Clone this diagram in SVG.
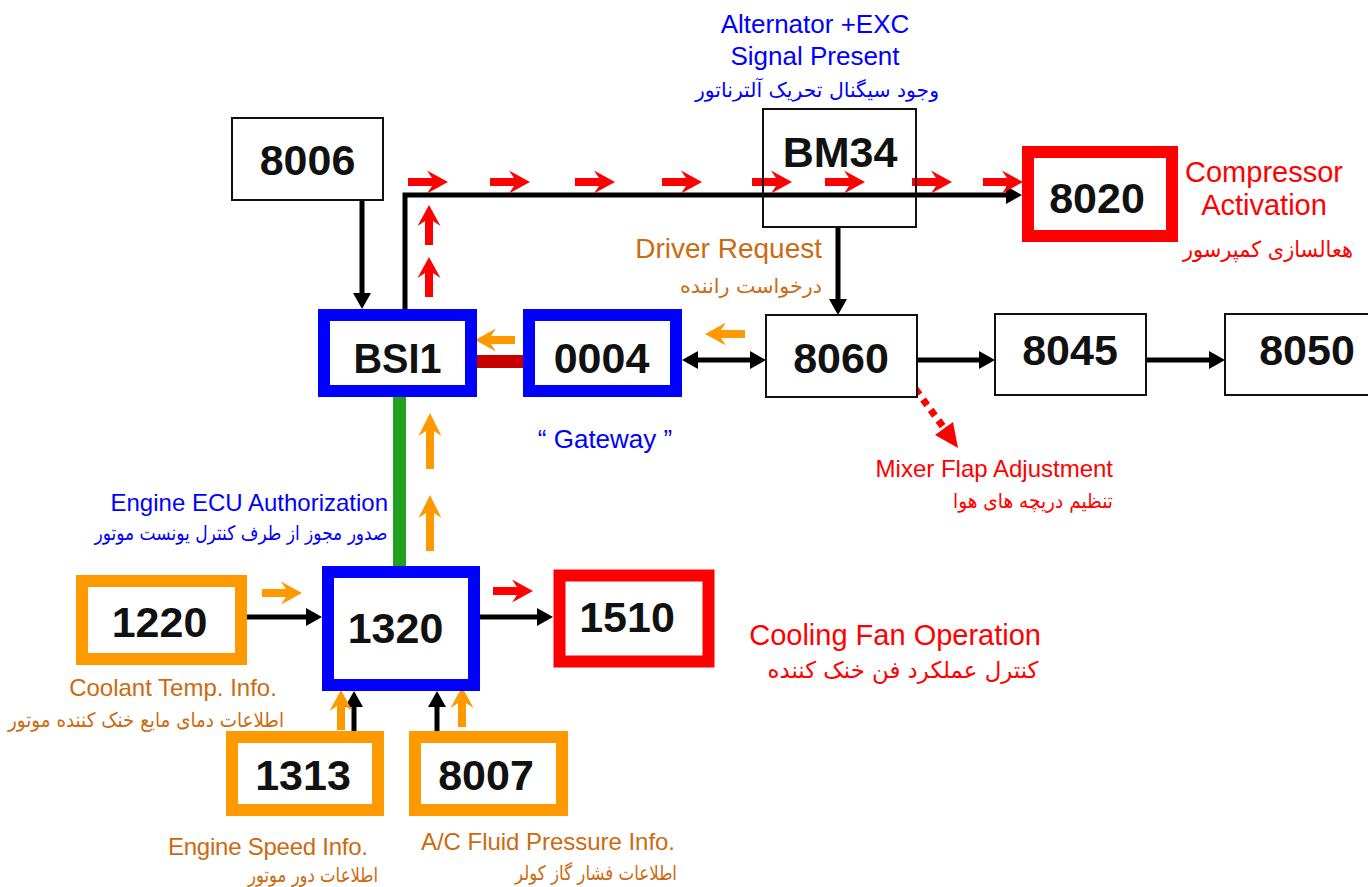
<svg xmlns="http://www.w3.org/2000/svg" width="1368" height="887" viewBox="0 0 1368 887">
<defs>
<style>
.thin{fill:#fff;stroke:#111;stroke-width:2}
.blue{fill:#fff;stroke:#0000ff;stroke-width:12}
.red{fill:#fff;stroke:#ff0000;stroke-width:12}
.org{fill:#fff;stroke:#ff9900;stroke-width:12}
.num{font-family:"Liberation Sans",Arial,sans-serif;font-weight:bold;font-size:43px;fill:#111;text-anchor:middle}
.en{font-family:"Liberation Sans",Arial,sans-serif}
.fa{font-family:"DejaVu Sans","Noto Sans",sans-serif;text-anchor:middle}
.cb{fill:#0000ff}
.cr{fill:#ff0000}
.co{fill:#cc6a10}
.conn{fill:none;stroke:#000;stroke-width:5}
</style>
<marker id="ah" markerUnits="userSpaceOnUse" markerWidth="16" markerHeight="18" refX="6" refY="9" orient="auto-start-reverse">
<path d="M0,0 L16,9 L0,18 Z" fill="#000"/>
</marker>
<path id="fa" d="M0,-4 H24 L19,-11.5 L40,0 L19,11.5 L24,4 H0 Z"/>
<path id="fal" d="M0,-4 H38 L33,-11.5 L56,0 L33,11.5 L38,4 H0 Z"/>
</defs>
<rect width="1368" height="887" fill="#fff"/>

<g id="connectors">
<rect x="393" y="397" width="13" height="169" fill="#22a022"/>
<rect x="477" y="355" width="46" height="13" fill="#c80000"/>
<line class="conn" x1="362" y1="200" x2="362" y2="299" marker-end="url(#ah)"/>
<polyline class="conn" points="405,309 405,195 1012,195" marker-end="url(#ah)"/>
<line class="conn" x1="838" y1="227" x2="838" y2="305" marker-end="url(#ah)"/>
<line class="conn" x1="692" y1="360" x2="756" y2="360" marker-start="url(#ah)" marker-end="url(#ah)"/>
<line class="conn" x1="917" y1="360" x2="985" y2="360" marker-end="url(#ah)"/>
<line class="conn" x1="1146" y1="360" x2="1215" y2="360" marker-end="url(#ah)"/>
<line class="conn" x1="247" y1="617" x2="312" y2="617" marker-end="url(#ah)"/>
<line class="conn" x1="480" y1="617" x2="543" y2="617" marker-end="url(#ah)"/>
<line class="conn" x1="354" y1="731" x2="354" y2="701" marker-end="url(#ah)"/>
<line class="conn" x1="437" y1="731" x2="437" y2="701" marker-end="url(#ah)"/>
<line x1="900" y1="368" x2="944" y2="428" stroke="#ff0000" stroke-width="7" stroke-dasharray="7,6"/>
<path d="M958,448 L935,435 L953,422 Z" fill="#ff0000"/>
</g>

<g id="flow-arrows">
<g fill="#ff0000">
<use href="#fa" transform="translate(408,182)"/>
<use href="#fa" transform="translate(490,182)"/>
<use href="#fa" transform="translate(575,182)"/>
<use href="#fa" transform="translate(662,182)"/>
<use href="#fa" transform="translate(752,182)"/>
<use href="#fa" transform="translate(825,182)"/>
<use href="#fa" transform="translate(912,182)"/>
<use href="#fa" transform="translate(983,182)"/>
<use href="#fa" transform="translate(429,297) rotate(-90)"/>
<use href="#fa" transform="translate(429,245) rotate(-90)"/>
<use href="#fa" transform="translate(493,591)"/>
</g>
<g fill="#ff9900">
<use href="#fa" transform="translate(515,340) rotate(180)"/>
<use href="#fa" transform="translate(745,334) rotate(180)"/>
<use href="#fal" transform="translate(430,469) rotate(-90)"/>
<use href="#fal" transform="translate(430,551) rotate(-90)"/>
<use href="#fa" transform="translate(262,593)"/>
<use href="#fa" transform="translate(341,730) rotate(-90)"/>
<use href="#fa" transform="translate(462,727) rotate(-90)"/>
</g>
</g>

<g id="n8006"><rect class="thin" x="232" y="118" width="151" height="82"/><text class="num" x="307.5" y="175">8006</text></g>
<g id="nBM34"><rect class="thin" x="763" y="109" width="153" height="118" fill-opacity="0"/><text class="num" x="840" y="167">BM34</text></g>
<g id="n8060"><rect class="thin" x="766" y="315" width="151" height="82"/><text class="num" x="841" y="373">8060</text></g>
<g id="n8045"><rect class="thin" x="995" y="314" width="151" height="81"/><text class="num" x="1070" y="365">8045</text></g>
<g id="n8050"><rect class="thin" x="1225" y="314" width="150" height="81"/><text class="num" x="1307" y="365">8050</text></g>
<g id="nBSI1"><rect class="blue" x="324" y="315" width="147" height="76"/><text class="num" x="397.5" y="373" textLength="88" lengthAdjust="spacingAndGlyphs">BSI1</text></g>
<g id="n0004"><rect class="blue" x="529" y="315" width="147" height="76"/><text class="num" x="601.5" y="373">0004</text></g>
<g id="n8020"><rect class="red" x="1028" y="152" width="144" height="84"/><text class="num" x="1097" y="213">8020</text></g>
<g id="n1320"><rect class="blue" x="328" y="572" width="146" height="113"/><text class="num" x="395.5" y="643">1320</text></g>
<g id="n1220"><rect class="org" x="82" y="581" width="159" height="78"/><text class="num" x="159.5" y="637">1220</text></g>
<g id="n1510"><rect class="red" x="559.5" y="575.5" width="149" height="86" stroke-width="13"/><text class="num" x="627" y="632">1510</text></g>
<g id="n1313"><rect class="org" x="232" y="737" width="146" height="73"/><text class="num" x="303" y="790">1313</text></g>
<g id="n8007"><rect class="org" x="415" y="737" width="147" height="73"/><text class="num" x="486" y="790">8007</text></g>

<g id="labels">
<text class="en cb" x="815" y="33" font-size="26" text-anchor="middle">Alternator +EXC</text>
<text class="en cb" x="815" y="65" font-size="26" text-anchor="middle">Signal Present</text>
<text class="fa cb" x="817" y="97" font-size="20" direction="rtl" textLength="244" lengthAdjust="spacingAndGlyphs">وجود سیگنال تحریک آلترناتور</text>
<text class="en co" x="822" y="258" font-size="28" text-anchor="end">Driver Request</text>
<text class="fa co" x="751" y="293" font-size="20" direction="rtl" textLength="142" lengthAdjust="spacingAndGlyphs">درخواست راننده</text>
<text class="en cb" x="605" y="448" font-size="26" text-anchor="middle">“ Gateway ”</text>
<text class="en cr" x="1264" y="182" font-size="29" text-anchor="middle">Compressor</text>
<text class="en cr" x="1264" y="215" font-size="29" text-anchor="middle">Activation</text>
<text class="fa cr" x="1268" y="257" font-size="22" direction="rtl" textLength="170" lengthAdjust="spacingAndGlyphs">هعالسازی کمپرسور</text>
<text class="en cr" x="1113" y="477" font-size="24" text-anchor="end">Mixer Flap Adjustment</text>
<text class="fa cr" x="1033" y="508" font-size="20" direction="rtl" textLength="160" lengthAdjust="spacingAndGlyphs">تنظیم دریچه های هوا</text>
<text class="en cr" x="1041" y="645" font-size="29" text-anchor="end">Cooling Fan Operation</text>
<text class="fa cr" x="903" y="678" font-size="23" direction="rtl" textLength="271" lengthAdjust="spacingAndGlyphs">کنترل عملکرد فن خنک کننده</text>
<text class="en cb" x="388" y="511" font-size="24" text-anchor="end">Engine ECU Authorization</text>
<text class="fa cb" x="241" y="540" font-size="20" direction="rtl" textLength="293" lengthAdjust="spacingAndGlyphs">صدور مجوز از طرف کنترل یونست موتور</text>
<text class="en co" x="173" y="696" font-size="24" text-anchor="middle">Coolant Temp. Info.</text>
<text class="fa co" x="146" y="727" font-size="20" direction="rtl" textLength="276" lengthAdjust="spacingAndGlyphs">اطلاعات دمای مایع خنک کننده موتور</text>
<text class="en co" x="268" y="855" font-size="24" text-anchor="middle" textLength="200">Engine Speed Info.</text>
<text class="fa co" x="313" y="882" font-size="20" direction="rtl" textLength="130" lengthAdjust="spacingAndGlyphs">اطلاعات دور موتور</text>
<text class="en co" x="548" y="850" font-size="24" text-anchor="middle" textLength="254">A/C Fluid Pressure Info.</text>
<text class="fa co" x="596" y="880" font-size="20" direction="rtl" textLength="162" lengthAdjust="spacingAndGlyphs">اطلاعات فشار گاز کولر</text>
</g>
</svg>
